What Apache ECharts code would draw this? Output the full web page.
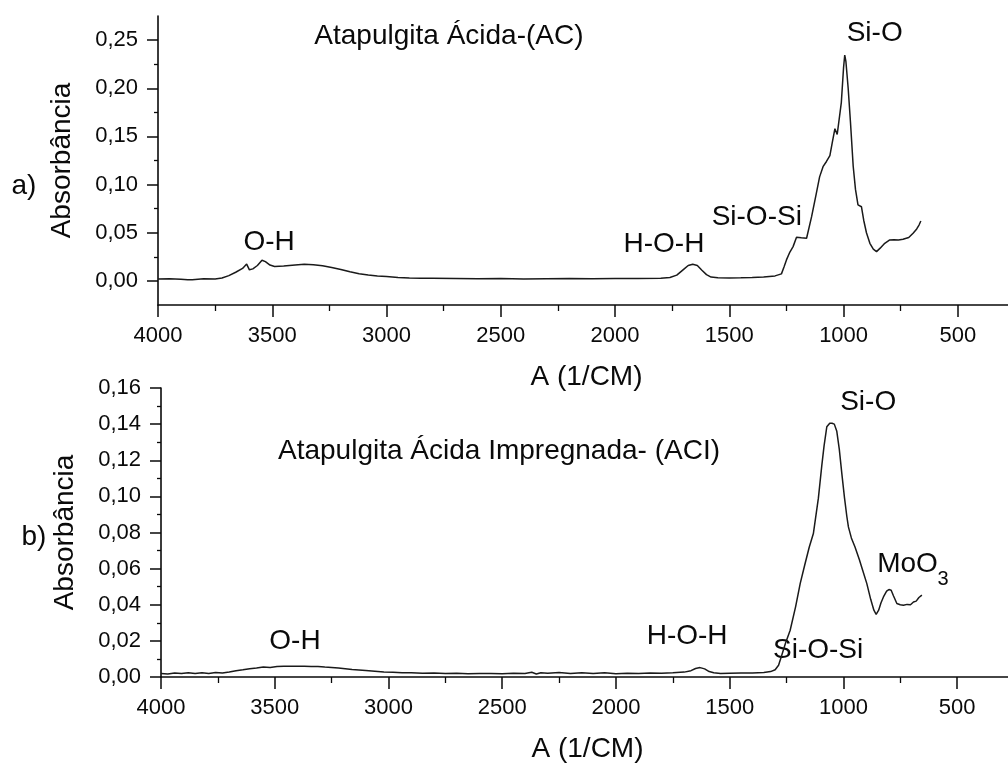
<!DOCTYPE html>
<html><head><meta charset="utf-8">
<script src="https://cdn.jsdelivr.net/npm/echarts@6/dist/echarts.min.js"></script>
<style>html,body{margin:0;padding:0;background:#fff}#c{width:1008px;height:763px}</style>
</head><body><div id="c"></div>
<script>
// ---- data ----
const topWavenumber = [4000,3950,3900,3870,3850,3800,3750,3720,3690,3660,3630,3612,3600,3585,3565,3545,3530,3510,3490,3450,3400,3360,3320,3280,3240,3200,3160,3120,3080,3040,3000,2950,2900,2850,2800,2700,2600,2500,2400,2300,2200,2100,2000,1900,1800,1760,1730,1700,1680,1660,1640,1620,1600,1580,1550,1500,1450,1400,1350,1300,1272,1260,1250,1235,1221,1206,1185,1162,1140,1120,1105,1090,1075,1060,1050,1038,1028,1020,1010,1000,995,990,980,970,958,948,937,930,922,912,900,885,870,856,840,820,798,780,760,740,715,696,680,670,662];
const topAbsorbance = [0.0020,0.0022,0.0018,0.0012,0.0012,0.0022,0.0020,0.0030,0.0055,0.0090,0.0130,0.0175,0.0115,0.0125,0.0160,0.0215,0.0200,0.0165,0.0150,0.0155,0.0165,0.0172,0.0168,0.0158,0.0140,0.0118,0.0095,0.0075,0.0062,0.0052,0.0045,0.0036,0.0030,0.0028,0.0027,0.0025,0.0022,0.0024,0.0021,0.0023,0.0025,0.0022,0.0025,0.0026,0.0028,0.0035,0.0060,0.0120,0.0160,0.0172,0.0160,0.0110,0.0065,0.0040,0.0032,0.0030,0.0032,0.0035,0.0040,0.0052,0.0073,0.0150,0.0218,0.0300,0.0356,0.0453,0.0448,0.0443,0.0667,0.0900,0.1080,0.1186,0.1240,0.1300,0.1430,0.1580,0.1520,0.1500,0.1850,0.2220,0.2345,0.2280,0.2000,0.1650,0.1190,0.0950,0.0790,0.0780,0.0770,0.0630,0.0500,0.0390,0.0330,0.0304,0.0340,0.0390,0.0425,0.0428,0.0425,0.0432,0.0450,0.0495,0.0540,0.0580,0.0622];

const bottomWavenumber = [4000,3970,3940,3910,3880,3850,3820,3790,3760,3730,3700,3670,3640,3610,3580,3550,3520,3490,3460,3430,3400,3370,3340,3310,3280,3250,3220,3190,3160,3130,3100,3060,3020,2980,2940,2900,2850,2800,2750,2700,2650,2600,2550,2500,2450,2400,2370,2350,2330,2300,2250,2200,2150,2100,2050,2000,1950,1900,1850,1800,1750,1700,1670,1650,1630,1610,1590,1570,1540,1500,1450,1400,1350,1320,1300,1285,1271,1255,1234,1210,1190,1170,1150,1132,1110,1095,1085,1073,1060,1050,1040,1029,1018,1007,995,985,978,965,949,930,915,897,880,866,856,845,835,824,810,800,790,780,765,750,736,720,705,692,680,668,655];
const bottomAbsorbance = [0.0020,0.0017,0.0022,0.0019,0.0024,0.0020,0.0023,0.0019,0.0025,0.0022,0.0028,0.0035,0.0040,0.0046,0.0050,0.0055,0.0053,0.0058,0.0059,0.0060,0.0059,0.0060,0.0058,0.0058,0.0055,0.0053,0.0050,0.0046,0.0042,0.0039,0.0036,0.0032,0.0028,0.0026,0.0024,0.0023,0.0021,0.0022,0.0019,0.0021,0.0018,0.0020,0.0019,0.0018,0.0021,0.0020,0.0026,0.0017,0.0024,0.0021,0.0025,0.0019,0.0024,0.0020,0.0023,0.0018,0.0021,0.0020,0.0022,0.0021,0.0023,0.0027,0.0035,0.0047,0.0052,0.0045,0.0030,0.0024,0.0020,0.0021,0.0022,0.0022,0.0025,0.0030,0.0040,0.0065,0.0120,0.0185,0.0259,0.0390,0.0517,0.0620,0.0720,0.0794,0.0990,0.1170,0.1280,0.1385,0.1405,0.1405,0.1400,0.1360,0.1260,0.1127,0.0990,0.0890,0.0831,0.0770,0.0720,0.0650,0.0590,0.0517,0.0430,0.0370,0.0347,0.0370,0.0410,0.0443,0.0475,0.0484,0.0480,0.0450,0.0407,0.0400,0.0397,0.0402,0.0400,0.0415,0.0420,0.0440,0.0453];

const xMajorTicks = [4000,3500,3000,2500,2000,1500,1000,500];
const xMinorTicks = [3750,3250,2750,2250,1750,1250,750];
const topYMajorTicks = [0,0.05,0.10,0.15,0.20,0.25];
const topYMinorTicks = [0.025,0.075,0.125,0.175,0.225];
const bottomYMajorTicks = [0,0.02,0.04,0.06,0.08,0.10,0.12,0.14,0.16];
const bottomYMinorTicks = [0.01,0.03,0.05,0.07,0.09,0.11,0.13,0.15];

const topAnnotations = [
  {text:'Atapulgita Ácida-(AC)', wn:2727, abs:0.254, size:28},
  {text:'Si-O', wn:864, abs:0.257, size:28},
  {text:'O-H', wn:3514, abs:0.0405, size:28},
  {text:'H-O-H', wn:1786, abs:0.0384, size:28},
  {text:'Si-O-Si', wn:1380, abs:0.0664, size:28}
];
const bottomAnnotations = [
  {text:'Atapulgita Ácida Impregnada- (ACI)', wn:2514, abs:0.125, size:28},
  {text:'Si-O', wn:891, abs:0.1522, size:28},
  {text:'MoO', wn:718, abs:0.0624, size:28},
  {text:'3', wn:562, abs:0.0541, size:20},
  {text:'H-O-H', wn:1687, abs:0.0225, size:28},
  {text:'Si-O-Si', wn:1111, abs:0.0148, size:28},
  {text:'O-H', wn:3411, abs:0.0198, size:28}
];

// ---- chart ----
const FONT = "'Liberation Sans', Arial, sans-serif";
const INK = '#0a0a0a';
const zip = (a, b) => a.map((v, i) => [v, b[i]]);
const fmt = v => v.toFixed(2).replace('.', ',');

function xAxesFor(grid) {
  return [
    { type:'value', gridIndex:grid, position:'bottom', min:250, max:4000, inverse:true,
      name:'A (1/CM)', nameLocation:'middle', nameGap:58,
      nameTextStyle:{fontSize:28, fontFamily:FONT, color:INK},
      axisLine:{onZero:false, lineStyle:{color:INK, width:1.6}},
      axisTick:{customValues:xMajorTicks, length:12, lineStyle:{color:INK, width:1.5}},
      axisLabel:{customValues:xMajorTicks, formatter:v => String(v), fontSize:22, margin:20, color:INK, fontFamily:FONT},
      splitLine:{show:false} },
    { type:'value', gridIndex:grid, position:'bottom', min:250, max:4000, inverse:true,
      axisLine:{show:false, onZero:false},
      axisTick:{show:true, customValues:xMinorTicks, length:6, lineStyle:{color:INK, width:1.3}},
      axisLabel:{show:false}, splitLine:{show:false} }
  ];
}
function yAxesFor(grid, min, max, major, minor) {
  return [
    { type:'value', gridIndex:grid, position:'left', min:min, max:max,
      name:'Absorbância', nameLocation:'middle', nameGap:82, nameRotate:90,
      nameTextStyle:{fontSize:28, fontFamily:FONT, color:INK},
      axisLine:{onZero:false, lineStyle:{color:INK, width:1.6}},
      axisTick:{customValues:major, length:11, lineStyle:{color:INK, width:1.5}},
      axisLabel:{customValues:major, formatter:fmt, fontSize:22, margin:20, color:INK, fontFamily:FONT},
      splitLine:{show:false} },
    { type:'value', gridIndex:grid, position:'left', min:min, max:max,
      axisLine:{show:false, onZero:false},
      axisTick:{show:true, customValues:minor, length:4, lineStyle:{color:INK, width:1.3}},
      axisLabel:{show:false}, splitLine:{show:false} }
  ];
}

const chart = echarts.init(document.getElementById('c'), null, {renderer:'canvas'});
chart.setOption({
  animation:false,
  backgroundColor:'#fff',
  textStyle:{fontFamily:FONT},
  grid:[
    {left:158, right:-7, top:16, bottom:458, outerBoundsMode:'none', containLabel:false},
    {left:161, right:-6, top:388, bottom:86, outerBoundsMode:'none', containLabel:false}
  ],
  xAxis:[...xAxesFor(0), ...xAxesFor(1)],
  yAxis:[...yAxesFor(0, -0.025, 0.275, topYMajorTicks, topYMinorTicks),
         ...yAxesFor(1, 0, 0.16, bottomYMajorTicks, bottomYMinorTicks)],
  series:[
    { type:'line', xAxisIndex:0, yAxisIndex:0, data:zip(topWavenumber, topAbsorbance),
      symbol:'none', lineStyle:{color:'#1a1a1a', width:1.5} },
    { type:'line', xAxisIndex:2, yAxisIndex:2, data:zip(bottomWavenumber, bottomAbsorbance),
      symbol:'none', lineStyle:{color:'#1a1a1a', width:1.5} }
  ]
});

function textEl(text, x, y, size) {
  return { type:'text', x:x, y:y, silent:true,
    style:{ text:text, fill:INK, font: size + "px " + FONT,
            align:'center', verticalAlign:'middle', textAlign:'center', textVerticalAlign:'middle' } };
}
const graphics = [];
topAnnotations.forEach(a => {
  const p = chart.convertToPixel({xAxisIndex:0, yAxisIndex:0}, [a.wn, a.abs]);
  graphics.push(textEl(a.text, p[0], p[1], a.size));
});
bottomAnnotations.forEach(a => {
  const p = chart.convertToPixel({xAxisIndex:2, yAxisIndex:2}, [a.wn, a.abs]);
  graphics.push(textEl(a.text, p[0], p[1], a.size));
});
graphics.push(textEl('a)', 24, 186, 28));
graphics.push(textEl('b)', 34, 537, 28));
chart.setOption({graphic: graphics});
</script>
</body></html>
